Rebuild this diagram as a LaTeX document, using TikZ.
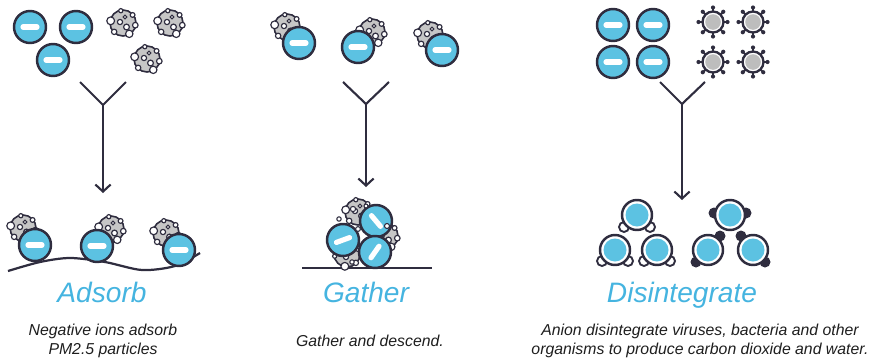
\documentclass[tikz,border=0pt]{standalone}
\usepackage{fontspec}
\setmainfont{Liberation Sans}
\usetikzlibrary{arrows.meta}

\definecolor{ink}{HTML}{2F2D3F}
\definecolor{ionblue}{HTML}{5CC2E2}
\definecolor{pmgray}{HTML}{C6C6C6}
\definecolor{virgray}{HTML}{BDBDBD}
\definecolor{titleblue}{HTML}{45B4E0}
\definecolor{desctext}{HTML}{1E1E1E}

\tikzset{
  % negative ion
  ion/.pic={
    \filldraw[fill=ionblue,draw=ink,line width=2.1pt] (0,0) circle (16);
    \draw[white,line width=4.4pt,line cap=round] (-7,0) -- (7,0);
  },
  % ion without charge mark
  cion/.pic={
    \filldraw[fill=white,draw=ink,line width=2.1pt] (0,0) circle (15);
    \fill[ionblue] (0,0) circle (11.5);
  },
  % dust particle
  pm/.pic={
    \filldraw[fill=pmgray,draw=ink,line width=1.4pt] (0,0) circle (13);
    \foreach \a/\r in {190/3.9,135/2.7,60/3.7,10/2.8,-40/2.4,-100/2.1}
      \filldraw[fill=white,draw=ink,line width=1pt] (\a:12.5) circle (\r);
    \foreach \x/\y/\r in {-3/-1/2.6,3.5/4/2.9,2/-6/1.9}
      \filldraw[fill=white,draw=ink,line width=1pt] (\x,\y) circle (\r);
  },
  % virus
  virus/.pic={
    \foreach \a in {0,45,...,315}{
      \draw[ink,line width=1.8pt] (\a:9) -- (\a:14);
      \fill[ink] (\a:14.5) circle (2.1);
    }
    \filldraw[fill=white,draw=ink,line width=2pt] (0,0) circle (10.5);
    \fill[virgray] (0,0) circle (7.8);
  },
  wblob/.style={fill=white,draw=ink,line width=1.6pt},
  dblob/.style={fill=ink},
  fork/.style={ink,line width=1.8pt},
  down/.style={ink,line width=1.8pt,-{Straight Barb[length=6pt,width=13pt]}},
  title/.style={titleblue,font=\fontsize{24}{28}\selectfont\itshape,anchor=base},
  desc/.style={desctext,font=\fontsize{13.5}{16.5}\selectfont\itshape,align=center}
}

\begin{document}
\begin{tikzpicture}[x=0.03cm,y=-0.03cm]
\useasboundingbox (0,0) rectangle (891,359);

% Adsorb: inputs
\pic (a1) at (30,27) {ion};
\pic (a2) at (76,27) {ion};
\pic (a3) at (53,60) {ion};
\pic (p1) at (123,23) {pm};
\pic (p2) at (170,23) {pm};
\pic (p3) at (147,59) {pm};
% Adsorb: fork and arrow
\coordinate (aL) at (80,82);
\coordinate (aR) at (126,82);
\coordinate (aJ) at (103,105);
\coordinate (aT) at (103,193);
\draw[fork] (aL) -- (aJ) -- (aR);
\draw[down] (aJ) -- (aT);
% Adsorb: result
\draw[ink,line width=1.9pt] plot[smooth] coordinates {(8,271) (40,262) (70,258) (105,262) (142,270) (175,266) (200,253)};
\pic (ap1) at (23,228) {pm};
\pic (ai1) at (35,245) {ion};
\pic (ap2) at (111,229) {pm};
\pic (ai2) at (97,246) {ion};
\pic (ap3) at (166,233) {pm};
\pic (ai3) at (179,250) {ion};
\node[title] (tA) at (102,302) {Adsorb};
\node[desc] (dA) at (103,341) {Negative ions adsorb\\PM2.5 particles};

% Gather: inputs
\pic (gp1) at (287,27) {pm};
\pic (gi1) at (299,43) {ion};
\pic (gp2) at (372,32) {pm};
\pic (gi2) at (358,47) {ion};
\pic (gp3) at (430,35) {pm};
\pic (gi3) at (442,50) {ion};
% Gather: fork and arrow
\coordinate (gL) at (343,82);
\coordinate (gR) at (389,82);
\coordinate (gJ) at (366,104);
\coordinate (gT) at (366,187);
\draw[fork] (gL) -- (gJ) -- (gR);
\draw[down] (gJ) -- (gT);
% Gather: cluster
\coordinate (gA) at (302,268);
\coordinate (gB) at (432,268);
\draw[ink,line width=1.9pt] (gA) -- (gB);
\pic (cp1) at (358,212) {pm};
\pic (cp2) at (385,236) {pm};
\pic[rotate=90] (cp3) at (347,254) {pm};
\pic[rotate=-50] (ci1) at (376,221) {ion};
\pic[rotate=20] (ci2) at (343,240) {ion};
\pic[rotate=55] (ci3) at (375,252) {ion};
\foreach \x/\y/\r in {353/209/2.6,366/206/2,358/229/2.4,387/226/2.5,339/219/2.2,352/262/2.2}
  \filldraw[fill=white,draw=ink,line width=0.9pt] (\x,\y) circle (\r);
\node[title] (tG) at (366,302) {Gather};
\node[desc] (dG) at (370,341) {Gather and descend.};

% Disintegrate: inputs
\pic (di1) at (613,25) {ion};
\pic (di2) at (653,25) {ion};
\pic (di3) at (613,62) {ion};
\pic (di4) at (653,62) {ion};
\pic (v1) at (713,22) {virus};
\pic (v2) at (753,22) {virus};
\pic (v3) at (713,62) {virus};
\pic (v4) at (753,62) {virus};
% Disintegrate: fork and arrow
\coordinate (dL) at (660,82);
\coordinate (dR) at (705,82);
\coordinate (dJ) at (682,104);
\coordinate (dT) at (682,200);
\draw[fork] (dL) -- (dJ) -- (dR);
\draw[down] (dJ) -- (dT);
% Disintegrate: leftovers
\foreach \x/\y in {624/227,650/227,602/261,628/261,644/261,670/261}
  \filldraw[wblob] (\x,\y) circle (5);
\foreach \x/\y in {714/213,746/213,720/236,696/262,741/236,765/262}
  \fill[dblob] (\x,\y) circle (5.5);
\pic (r1) at (637,215) {cion};
\pic (r2) at (615,250) {cion};
\pic (r3) at (657,250) {cion};
\pic (r4) at (730,215) {cion};
\pic (r5) at (708,250) {cion};
\pic (r6) at (753,250) {cion};
\node[title] (tD) at (682,302) {Disintegrate};
\node[desc] (dD) at (700,341) {Anion disintegrate viruses, bacteria and other\\organisms to produce carbon dioxide and water.};
\end{tikzpicture}
\end{document}
